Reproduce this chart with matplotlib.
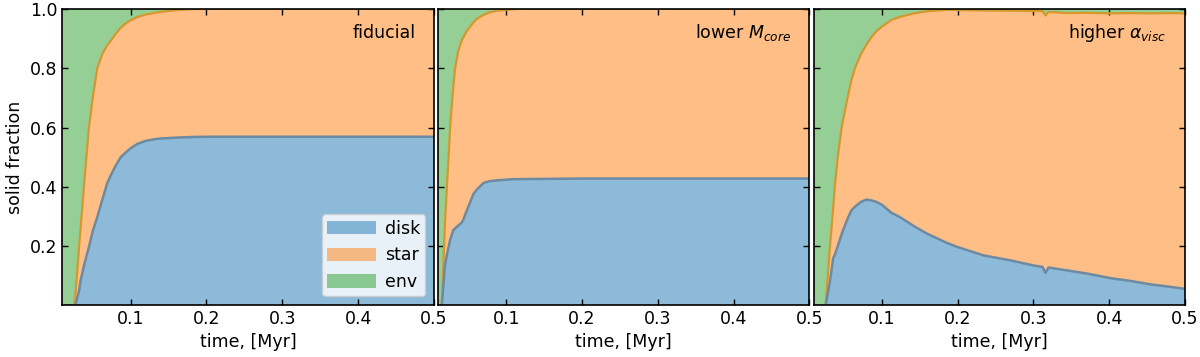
import numpy as np
import matplotlib
matplotlib.use('Agg')
import matplotlib.pyplot as plt

# Panel 1: fiducial  (top = disk + star, cumulative)
t_fid = [0.0, 0.025, 0.027, 0.032, 0.034, 0.039, 0.045, 0.05, 0.056, 0.063, 0.069, 0.074,
         0.08, 0.087, 0.094, 0.1, 0.109, 0.12, 0.13, 0.139, 0.16, 0.18, 0.2, 0.3, 0.4, 0.5]
top_fid = [0, 0, 0.03, 0.197, 0.26, 0.42, 0.60, 0.70, 0.80, 0.85, 0.877, 0.893,
           0.915, 0.937, 0.952, 0.962, 0.973, 0.981, 0.986, 0.99, 0.996, 0.999, 1.0, 1.0, 1.0, 1.0]
disk_fid = [0, 0, 0.0, 0.05, 0.084, 0.14, 0.197, 0.25, 0.298, 0.36, 0.411, 0.44,
            0.47, 0.50, 0.517, 0.53, 0.545, 0.555, 0.56, 0.563, 0.566, 0.568, 0.569, 0.569, 0.569, 0.569]

# Panel 2: lower M_core
t_low = [0.0, 0.014, 0.015, 0.017, 0.019, 0.0217, 0.024, 0.026, 0.030, 0.0326, 0.037, 0.0415,
         0.0436, 0.048, 0.057, 0.061, 0.070, 0.078, 0.088, 0.11, 0.114, 0.2, 0.3, 0.4, 0.5]
top_low = [0, 0, 0.0, 0.13, 0.26, 0.40, 0.50, 0.60, 0.73, 0.80, 0.86, 0.895,
           0.905, 0.925, 0.955, 0.966, 0.98, 0.988, 0.994, 0.999, 1.0, 1.0, 1.0, 1.0, 1.0]
disk_low = [0, 0, 0, 0.06, 0.13, 0.17, 0.197, 0.22, 0.253, 0.26, 0.27, 0.28,
            0.29, 0.32, 0.377, 0.39, 0.413, 0.419, 0.422, 0.426, 0.426, 0.428, 0.428, 0.428, 0.428]

# Panel 3: higher alpha_visc
t_alp = [0.0, 0.026, 0.0316, 0.036, 0.038, 0.042, 0.047, 0.054, 0.060, 0.0647, 0.067, 0.073,
         0.08, 0.087, 0.093, 0.1, 0.113, 0.124, 0.144, 0.16, 0.185, 0.2, 0.234, 0.27, 0.30,
         0.312, 0.316, 0.32, 0.345, 0.37, 0.402, 0.43, 0.455, 0.48, 0.5]
top_alp = [0, 0, 0.197, 0.33, 0.40, 0.50, 0.60, 0.69, 0.76, 0.80, 0.815, 0.85,
           0.88, 0.907, 0.925, 0.94, 0.963, 0.973, 0.986, 0.992, 0.997, 0.996, 0.995, 0.994, 0.993,
           0.993, 0.978, 0.99, 0.986, 0.987, 0.985, 0.986, 0.985, 0.986, 0.985]
disk_alp = [0, 0, 0.08, 0.16, 0.17, 0.20, 0.24, 0.287, 0.321, 0.333, 0.338, 0.35,
            0.357, 0.354, 0.349, 0.34, 0.312, 0.298, 0.265, 0.242, 0.212, 0.197, 0.169, 0.152, 0.135,
            0.13, 0.11, 0.128, 0.118, 0.108, 0.092, 0.082, 0.071, 0.063, 0.056]

titles = ['fiducial', r'lower $M_{core}$', r'higher $\alpha_{visc}$']
labels = ['disk', 'star', 'env']
xticks = [0.1, 0.2, 0.3, 0.4, 0.5]
yticks = [0.2, 0.4, 0.6, 0.8, 1.0]

runs = [(t_fid, disk_fid, top_fid), (t_low, disk_low, top_low), (t_alp, disk_alp, top_alp)]

fs = 12.5
fig, axes = plt.subplots(1, 3, figsize=(12, 3.57), dpi=100, sharey=True)
fig.subplots_adjust(left=0.052, right=0.9875, top=0.975, bottom=0.146, wspace=0.011)

for i, ax in enumerate(axes):
    t, disk, top = [np.array(a, dtype=float) for a in runs[i]]
    star = top - disk
    env = 1.0 - top
    ax.stackplot(t, disk, star, env, labels=labels, alpha=0.5,
                 colors=['tab:blue', 'tab:orange', 'tab:green'])
    # boundary lines between the stacked areas
    ax.plot(t, top, color='#d4982c', lw=1.6)
    ax.plot(t, disk, color='#6c8ba2', lw=1.8)
    ax.set_xlim(0.01, 0.5)
    ax.set_ylim(0.002, 1.0)
    ax.set_xticks(xticks)
    ax.set_xticklabels(['0.1', '0.2', '0.3', '0.4', '0.5'])
    ax.set_yticks(yticks)
    ax.tick_params(direction='in', top=True, right=True, labelsize=fs, length=4.5, width=1.0)
    ax.set_xlabel('time, [Myr]', fontsize=fs)
    ax.text(0.95, 0.92, titles[i], transform=ax.transAxes, ha='right', va='center', fontsize=fs)
    for s in ax.spines.values():
        s.set_linewidth(1.2)

axes[0].set_ylabel('solid fraction', fontsize=fs)
axes[0].set_yticklabels(['0.2', '0.4', '0.6', '0.8', '1.0'])
axes[0].legend(loc='lower right', fontsize=fs, handlelength=2.8, handleheight=0.8,
               handletextpad=0.5, borderpad=0.3, borderaxespad=0.5)

plt.savefig('out.png', dpi=100)
